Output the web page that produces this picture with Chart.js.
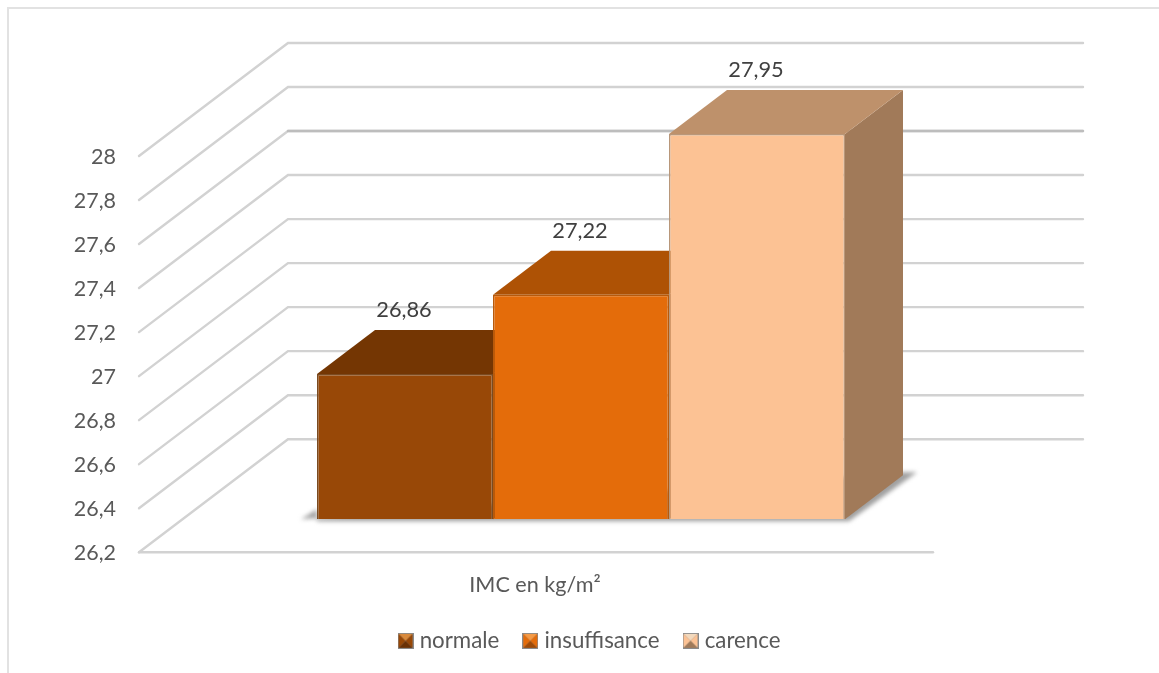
<!DOCTYPE html>
<html>
<head>
<meta charset="utf-8">
<script src="https://cdn.jsdelivr.net/npm/chart.js@4"></script>
<style>
  html, body { margin: 0; padding: 0; background: #fff; overflow: hidden; }
  #wrap { position: absolute; left: 0; top: 0; width: 1159px; height: 673px; overflow: hidden; }
  #frame { position: absolute; left: 7px; top: 7px; width: 1152px; height: 666px; border-top: 2px solid #e2e2e2; border-left: 2px solid #e2e2e2; box-sizing: border-box; }
  canvas { position: absolute; left: 0; top: 0; }
</style>
</head>
<body>
<div id="wrap">
  <div id="frame"></div>
  <canvas id="chart" width="1159" height="673"></canvas>
</div>
<script>
const categories = ["IMC en kg/m²"]
const seriesNames = ["normale", "insuffisance", "carence"]
const seriesValues = [26.86, 27.22, 27.95]
const dataLabels = ["26,86", "27,22", "27,95"]
const axisMin = 26.2
const axisMax = 28
const axisStep = 0.2
const frontColors = ["#984807", "#E46C0A", "#FCC294"]
const topColors = ["#743603", "#AE5205", "#BE916B"]
const sideColors = ["#6A3105", "#A04A06", "#A17A59"]
const edgeColors = ["#7a4a20", "#b85a0b", "#b8977a"]
const swatchLight = ["#d98a3c", "#f59a45", "#f3d9bd"]

const FONT = "Lato, 'Open Sans', sans-serif"
const TEXT = "#595959"
// offsets of the fake 3d: wall depth, bar depth, bar plane vs wall front
const WALL = { dx: 149, dy: -113 }
const BAR = { dx: 58, dy: -44 }
const PLANE_DY = 33
const WALL_RIGHT = 1083
const FLOOR_RIGHT = 933
const LEGEND_SHIFT = 75

function poly(ctx, pts, fill) {
  ctx.beginPath()
  pts.forEach((p, i) => i ? ctx.lineTo(p[0], p[1]) : ctx.moveTo(p[0], p[1]))
  ctx.closePath()
  ctx.fillStyle = fill
  ctx.fill()
}

function swatch(i) {
  const c = document.createElement("canvas")
  c.width = 16; c.height = 16
  const g = c.getContext("2d")
  g.fillStyle = "#8a8a8a"
  g.fillRect(0, 0, 16, 16)
  poly(g, [[1, 1], [15, 1], [8, 8]], swatchLight[i])
  poly(g, [[1, 1], [8, 8], [1, 15]], frontColors[i])
  poly(g, [[15, 1], [8, 8], [15, 15]], frontColors[i])
  poly(g, [[1, 15], [15, 15], [8, 8]], sideColors[i])
  return c
}

const box3d = {
  id: "box3d",
  afterLayout(chart) {
    chart.legend.left += LEGEND_SHIFT
    chart.legend.right += LEGEND_SHIFT
  },
  beforeDatasetsDraw(chart) {
    const ctx = chart.ctx
    const ys = chart.scales.y, left = chart.chartArea.left
    ctx.save()
    ctx.lineCap = "round"
    ctx.lineWidth = 2.4
    ys.ticks.forEach((t, i) => {
      const y = ys.getPixelForValue(t.value) + PLANE_DY
      ctx.strokeStyle = "#d2d2d2"
      ctx.beginPath()
      ctx.moveTo(left, y)
      ctx.lineTo(left + WALL.dx, y + WALL.dy)
      ctx.lineTo(WALL_RIGHT, y + WALL.dy)
      ctx.stroke()
      // this one comes out darker in the original
      if (i === ys.ticks.length - 3) {
        ctx.strokeStyle = "#bdbdbd"
        ctx.beginPath()
        ctx.moveTo(left + WALL.dx, y + WALL.dy)
        ctx.lineTo(WALL_RIGHT, y + WALL.dy)
        ctx.stroke()
      }
    })
    ctx.strokeStyle = "#d2d2d2"
    const y0 = ys.getPixelForValue(ys.min) + PLANE_DY
    ctx.beginPath()
    ctx.moveTo(left, y0)
    ctx.lineTo(FLOOR_RIGHT, y0)
    ctx.stroke()

    const first = chart.getDatasetMeta(0).data[0]
    const last = chart.getDatasetMeta(seriesValues.length - 1).data[0]
    const bl = first.x - first.width / 2, br = last.x + last.width / 2, by = last.base
    ctx.filter = "blur(2px)"
    poly(ctx, [[bl - 16, by], [bl, by - 10], [bl, by + 2], [br + 4, by + 2], [br + BAR.dx + 14, by + BAR.dy - 3], [br + BAR.dx, by + BAR.dy - 3]], "#a0a0a0")
    ctx.filter = "none"

    seriesValues.forEach((v, i) => {
      const b = chart.getDatasetMeta(i).data[0]
      const l = b.x - b.width / 2, r = b.x + b.width / 2
      poly(ctx, [[r, b.y], [r + BAR.dx, b.y + BAR.dy], [r + BAR.dx, b.base + BAR.dy], [r, b.base]], sideColors[i])
      poly(ctx, [[l, b.y], [r, b.y], [r + BAR.dx, b.y + BAR.dy], [l + BAR.dx, b.y + BAR.dy]], topColors[i])
    })
    ctx.restore()
  },
  afterDatasetsDraw(chart) {
    const ctx = chart.ctx
    ctx.save()
    ctx.font = "21.8px " + FONT
    ctx.fillStyle = "#404040"
    ctx.textAlign = "center"
    ctx.textBaseline = "middle"
    seriesValues.forEach((v, i) => {
      const b = chart.getDatasetMeta(i).data[0]
      ctx.fillText(dataLabels[i], b.x - 1, b.y - 64)
    })
    ctx.restore()
  }
}

new Chart(document.getElementById("chart"), {
  type: "bar",
  data: {
    labels: categories,
    datasets: seriesNames.map((n, i) => ({
      label: n,
      data: [seriesValues[i]],
      base: axisMin,
      backgroundColor: frontColors[i],
      borderColor: edgeColors[i],
      borderWidth: 1.5,
      pointStyle: swatch(i)
    }))
  },
  options: {
    responsive: false,
    animation: false,
    layout: { padding: { left: 10, top: 123, right: 136, bottom: 11 } },
    barPercentage: 1,
    categoryPercentage: 528 / 884,
    plugins: {
      tooltip: { enabled: false },
      legend: {
        position: "bottom",
        labels: {
          usePointStyle: true,
          pointStyleWidth: 6,
          boxHeight: 16,
          padding: 28,
          color: TEXT,
          font: { family: FONT, size: 22.3 }
        }
      }
    },
    scales: {
      x: {
        afterFit: s => { s.height = 82.5 },
        grid: { display: false },
        border: { display: false },
        ticks: { color: TEXT, font: { family: FONT, size: 21.6 }, padding: 45, labelOffset: -46 }
      },
      y: {
        min: axisMin,
        max: axisMax,
        afterFit: s => { s.width = 129 },
        grid: { display: false, drawTicks: false },
        border: { display: false },
        ticks: {
          stepSize: axisStep,
          padding: 23,
          labelOffset: PLANE_DY + 1,
          color: TEXT,
          font: { family: FONT, size: 21.5 },
          callback: v => String(+v.toFixed(1)).replace(".", ",")
        }
      }
    }
  },
  plugins: [box3d]
})
</script>
</body>
</html>
